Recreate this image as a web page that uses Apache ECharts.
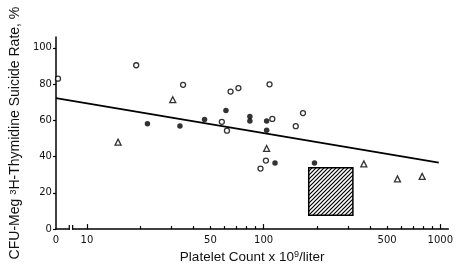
<!DOCTYPE html>
<html>
<head>
<meta charset="utf-8">
<script src="https://cdn.jsdelivr.net/npm/echarts@6/dist/echarts.min.js"></script>
<style>
html,body{margin:0;padding:0;background:#fff;}
#main{width:456px;height:269px;}
</style>
</head>
<body>
<div id="main"></div>
<script>
// platelet count (x10^9/liter) and suicide rate (%)
var openCount = [0, 19, 35, 65, 72, 108, 58, 62, 112, 167, 152, 103, 96];
var openRate = [83, 90.4, 79.6, 75.9, 77.8, 79.9, 59.2, 54.3, 60.8, 64, 56.8, 37.8, 33.4];
var dotCount = [22, 33.6, 46.3, 61.2, 83.6, 83.6, 104, 104, 116, 194];
var dotRate = [58.1, 56.9, 60.5, 65.4, 62.2, 59.6, 59.6, 54.6, 36.5, 36.5];
var triCount = [15, 30.6, 104, 369, 572, 789];
var triRate = [48, 71.4, 44.5, 36, 27.7, 29.1];
var fitCount = [0, 980];
var fitRate = [72.3, 36.7];
var boxCount = [180, 320];
var boxRate = [7.6, 33.9];

var yTicks = [0, 20, 40, 60, 80, 100];
var xMajorTicks = [10, 100, 1000];
var xMinorTicks = [20, 30, 40, 50, 60, 70, 80, 90, 200, 300, 400, 500, 600, 700, 800, 900];
var xLabels = [0, 10, 50, 100, 500, 1000];

// log axis can't hold 0, so the "0" column sits at the left end of the axis
var X_MIN = 6.68;
var X_MAX = 1110;
function xPos(c) {
	return c === 0 ? X_MIN : c;
}
function pairs(xs, ys) {
	return xs.map(function (x, i) {
		var item = {value: [xPos(x), ys[i]]};
		if (x === 0) item.symbolOffset = [2, 0];
		return item;
	});
}

// diagonal hatch for the box
var hatch = document.createElement('canvas');
hatch.width = 4;
hatch.height = 4;
var hc = hatch.getContext('2d');
hc.fillStyle = '#fff';
hc.fillRect(0, 0, 4, 4);
hc.strokeStyle = '#000';
hc.lineWidth = 1.2;
hc.beginPath();
hc.moveTo(-1, 5); hc.lineTo(5, -1);
hc.moveTo(-1, 1); hc.lineTo(1, -1);
hc.moveTo(3, 5); hc.lineTo(5, 3);
hc.stroke();

var labelStyle = {
	fontFamily: 'DejaVu Sans',
	fontSize: 10,
	color: '#111'
};

var chart = echarts.init(document.getElementById('main'));
var option = {
	animation: false,
	backgroundColor: '#fff',
	grid: {left: 54, right: 3, top: 37, bottom: 33},
	xAxis: [
		{
			type: 'log',
			logBase: 10,
			position: 'bottom',
			min: X_MIN,
			max: X_MAX,
			name: 'Platelet Count x 10{sup|9}/liter',
			nameLocation: 'middle',
			nameGap: 19,
			nameTextStyle: {
				fontFamily: 'Liberation Sans',
				fontSize: 13.5,
				color: '#111',
				rich: {sup: {fontFamily: 'Liberation Sans', fontSize: 9, color: '#111', verticalAlign: 'top'}}
			},
			axisLine: {lineStyle: {color: '#000', width: 1.5}},
			axisTick: {inside: true, length: 5, lineStyle: {color: '#000', width: 1.2}, customValues: xMajorTicks},
			axisLabel: Object.assign({
				margin: 6,
				customValues: xLabels.map(xPos),
				formatter: function (v) {
					return v < 7 ? '0' : String(Math.round(v));
				}
			}, labelStyle),
			splitLine: {show: false}
		},
		{
			type: 'log',
			logBase: 10,
			position: 'bottom',
			offset: 0,
			min: X_MIN,
			max: X_MAX,
			axisLine: {show: false},
			axisTick: {inside: true, length: 3, lineStyle: {color: '#000', width: 1.2}, customValues: xMinorTicks},
			axisLabel: {show: false},
			splitLine: {show: false}
		}
	],
	yAxis: {
		type: 'value',
		min: 0,
		max: 106,
		name: 'CFU-Meg {sup|3}H-Thymidine Suicide Rate, %',
		nameLocation: 'middle',
		nameRotate: 90,
		nameGap: 30,
		nameTextStyle: {
			fontFamily: 'Liberation Sans',
			fontSize: 14,
			color: '#111',
			rich: {sup: {fontFamily: 'Liberation Sans', fontSize: 9.5, color: '#111', verticalAlign: 'top'}}
		},
		axisLine: {show: true, lineStyle: {color: '#000', width: 1.5}},
		axisTick: {length: 3, lineStyle: {color: '#000', width: 1.2}, customValues: yTicks},
		axisLabel: Object.assign({margin: 4, customValues: yTicks}, labelStyle),
		splitLine: {show: false}
	},
	series: [
		{
			type: 'custom',
			renderItem: function (params, api) {
				var p0 = api.coord([api.value(0), api.value(3)]);
				var p1 = api.coord([api.value(2), api.value(1)]);
				return {
					type: 'rect',
					shape: {x: p0[0], y: p0[1], width: p1[0] - p0[0], height: p1[1] - p0[1]},
					style: {fill: {image: hatch, repeat: 'repeat'}, stroke: '#000', lineWidth: 1.5}
				};
			},
			encode: {x: [0, 2], y: [1, 3]},
			data: [[boxCount[0], boxRate[0], boxCount[1], boxRate[1]]]
		},
		{
			type: 'line',
			symbol: 'none',
			lineStyle: {color: '#000', width: 1.8},
			data: pairs(fitCount, fitRate).map(function (d) { return d.value; })
		},
		{
			type: 'scatter',
			symbol: 'circle',
			symbolSize: 5,
			itemStyle: {color: '#fff', borderColor: '#000', borderWidth: 1.3},
			data: pairs(openCount, openRate)
		},
		{
			type: 'scatter',
			symbol: 'circle',
			symbolSize: 5.5,
			itemStyle: {color: '#000'},
			data: pairs(dotCount, dotRate)
		},
		{
			type: 'scatter',
			symbol: 'triangle',
			symbolSize: 6,
			itemStyle: {color: '#fff', borderColor: '#000', borderWidth: 1.3},
			data: pairs(triCount, triRate)
		}
	]
};
chart.setOption(option);

// break in the x axis between the "0" column and the log scale
var b0 = chart.convertToPixel({xAxisIndex: 0, yAxisIndex: 0}, [7.94, 0]);
var b1 = chart.convertToPixel({xAxisIndex: 0, yAxisIndex: 0}, [8.3, 0]);
chart.setOption({
	graphic: [
		{type: 'rect', shape: {x: b0[0] + 0.5, y: b0[1] - 2, width: b1[0] - b0[0] - 1, height: 4}, style: {fill: '#fff'}, z: 100},
		{type: 'line', shape: {x1: b0[0], y1: b0[1] + 0.7, x2: b0[0], y2: b0[1] - 4}, style: {stroke: '#000', lineWidth: 1.2}, z: 101},
		{type: 'line', shape: {x1: b1[0], y1: b1[1] + 0.7, x2: b1[0], y2: b1[1] - 4}, style: {stroke: '#000', lineWidth: 1.2}, z: 101}
	]
});
</script>
</body>
</html>
